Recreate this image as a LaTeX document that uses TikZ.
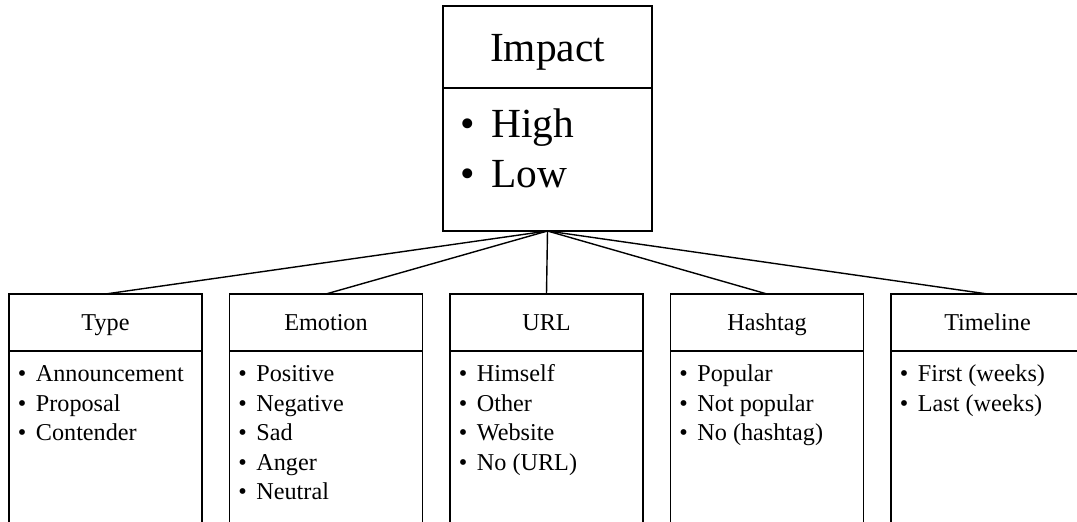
\documentclass[tikz,border=0pt]{standalone}
\usepackage{fontspec}
\setmainfont{Liberation Serif}
\usetikzlibrary{positioning}
\newcommand{\bul}{\textbullet\hspace{0.4em}}

\begin{document}
\begin{tikzpicture}[every node/.style={outer sep=0pt},line width=0.7pt,
 bighead/.style={draw,minimum width=104.5pt,minimum height=41pt,
 text height=14.1pt,text depth=0pt,font=\fontsize{20.7}{25}\selectfont},
 bigbody/.style={draw,minimum width=104.5pt,minimum height=71.5pt},
 head/.style={draw,minimum width=96.5pt,minimum height=28.5pt,
 text height=8.2pt,text depth=0pt,font=\fontsize{12.1}{14.75}\selectfont},
 body/.style={draw,minimum width=96.5pt,minimum height=100pt},
 items/.style={anchor=base west,inner sep=0pt}]

  \useasboundingbox (0,0) rectangle (538.5pt,-261pt);
  \clip (0,0) rectangle (538.5pt,-261pt);

  \node[bighead,anchor=north] (impact) at (273.75pt,-3pt) {Impact};
  \node[bigbody,below=0pt of impact] (impact-body) {};
  \node[items,font=\fontsize{20.7}{25}\selectfont] (impact-list) at
  ([xshift=8.6pt,yshift=-25pt]impact-body.north west)
   {\parbox[t]{90pt}{\bul High\\\bul Low}};

  \node[head,anchor=north west] (type) at (4.5pt,-147pt) {Type};
  \node[head,right=13.75pt of type] (emotion) {Emotion};
  \node[head,right=13.75pt of emotion] (url) {URL};
  \node[head,right=13.75pt of url] (hashtag) {Hashtag};
  \node[head,right=13.75pt of hashtag] (timeline) {Timeline};

  \foreach \n/\l in {type/{\bul Announcement\\\bul Proposal\\\bul Contender},
   emotion/{\bul Positive\\\bul Negative\\\bul Sad\\\bul Anger\\\bul Neutral},
   url/{\bul Himself\\\bul Other\\\bul Website\\\bul No (URL)},
   hashtag/{\bul Popular\\\bul Not popular\\\bul No (hashtag)},
   timeline/{\bul First (weeks)\\\bul Last (weeks)}}
  {\node[body,below=0pt of \n] (\n-body) {};
   \node[items,font=\fontsize{12.1}{14.75}\selectfont] (\n-list) at
   ([xshift=4.4pt,yshift=-15.5pt]\n-body.north west) {\parbox[t]{90pt}{\l}};
   \draw (impact-body.south) -- (\n.north);
  }

\end{tikzpicture}
\end{document}
